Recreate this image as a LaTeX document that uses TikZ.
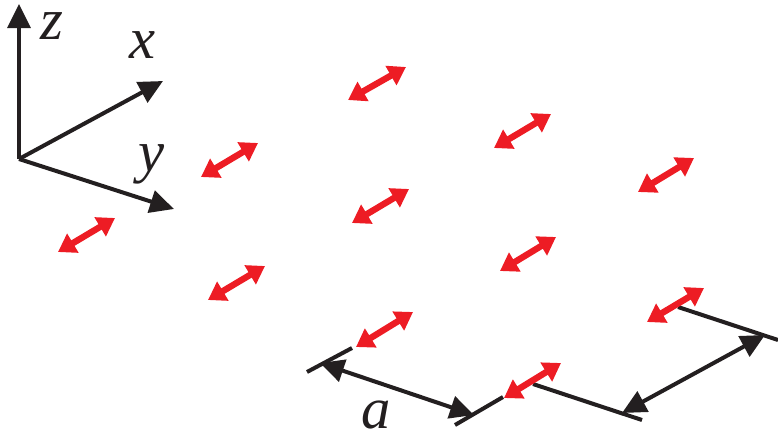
\documentclass[tikz,border=0pt]{standalone}
\usepackage{fontspec}
\setmainfont{Liberation Serif}[ItalicFont={Liberation Serif Italic}]
\usetikzlibrary{arrows.meta}
\definecolor{redarrow}{RGB}{237,28,36}
\definecolor{blackink}{RGB}{35,31,32}
\tikzset{
  x=0.75pt,y=-0.75pt,
  axis/.style={draw=blackink,line width=3pt,-{Triangle[length=18pt,width=17pt]}},
  dimline/.style={draw=blackink,line width=3pt,{Triangle[length=18pt,width=17pt]}-{Triangle[length=18pt,width=17pt]}},
  bar/.style={draw=blackink,line width=3pt},
  pol/.style={draw=redarrow,line width=4.8pt,{Triangle[length=13pt,width=16pt]}-{Triangle[length=13pt,width=16pt]}},
  lbl/.style={inner sep=0pt,text=blackink,font=\fontsize{44}{44}\selectfont\rmfamily\itshape}
}
\begin{document}
\begin{tikzpicture}
\useasboundingbox (0,0) rectangle (778,432);
% axes
\coordinate (o) at (19,159);
\coordinate (zt) at (19,4);
\coordinate (xt) at (163,81);
\coordinate (yt) at (174,209);
\draw[axis] (o) -- (zt);
\draw[axis] (o) -- (xt);
\draw[axis] (o) -- (yt);
\node[lbl] (zl) at (52,26) {z};
\node[lbl] (xl) at (143,45) {x};
\node[lbl] (yl) at (152,164) {y};
\node[lbl] (al) at (376,415) {a};
% lattice bars
\coordinate (b1a) at (307,372); \coordinate (b1b) at (352,348);
\coordinate (b2a) at (455,425); \coordinate (b2b) at (503,397);
\coordinate (b3a) at (533,384); \coordinate (b3b) at (642,420);
\coordinate (b4a) at (678,307); \coordinate (b4b) at (778,340);
\draw[bar] (b1a) -- (b1b);
\draw[bar] (b2a) -- (b2b);
\draw[bar] (b3a) -- (b3b);
\draw[bar] (b4a) -- (b4b);
% dimension arrows
\coordinate (d1a) at (320,363); \coordinate (d1b) at (474,415);
\coordinate (d2a) at (622,413); \coordinate (d2b) at (765,335);
\draw[dimline] (d1a) -- (d1b);
\draw[dimline] (d2a) -- (d2b);
% polarisation arrows
\foreach \n/\xa/\ya/\xb/\yb in {
 p1/348/100/406/67, p2/494/148/551/114, p3/638/192/694/158,
 p4/201/177/258/143, p5/352/223/409/189, p6/500/271/556/237,
 p7/647/322/704/288, p8/58/252/115/218, p9/208/300/265/266,
 p10/356/347/413/312, p11/504/398/561/363}{
  \coordinate (\n a) at (\xa,\ya);
  \coordinate (\n b) at (\xb,\yb);
  \draw[pol] (\n a) -- (\n b);
}
\end{tikzpicture}
\end{document}
